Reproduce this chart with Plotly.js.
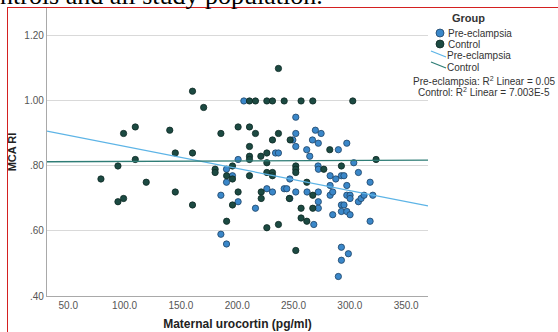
<!DOCTYPE html>
<html>
<head>
<meta charset="utf-8">
<script src="https://cdn.plot.ly/plotly-3.0.1.min.js"></script>
<style>
  html, body { margin:0; padding:0; background:#fff; }
  #wrap { position:relative; width:558px; height:332px; overflow:hidden; background:#fff; }
  #topText { position:absolute; left:0px; top:-17px; font-family:"Liberation Serif","Times New Roman",serif; font-size:26px; line-height:26px; color:#000; white-space:nowrap; z-index:3; }
  #frame { position:absolute; left:7px; top:7px; width:600px; height:400px; border-left:1px solid #d42020; border-top:1px solid #d42020; z-index:2; pointer-events:none; }
  #chart { position:absolute; left:0; top:0; width:558px; height:332px; }
</style>
</head>
<body>
<div id="wrap">
  <div id="chart"></div>
  <div id="frame"></div>
  <div id="topText">ntrols and all study population.</div>
</div>
<script>
// ---- data ----
const ctrlX = [79.0, 94.1, 99.1, 109.5, 94.1, 99.1, 109.5, 119.2, 140.1, 145.0,
  145.0, 160.3, 160.3, 160.3, 170.2, 180.4, 180.4, 185.5, 190.6, 190.6,
  195.8, 195.8, 195.8, 200.8, 200.8, 210.9, 216.2, 210.9, 210.9, 210.9,
  210.9, 210.9, 216.2, 221.0, 221.3, 221.3, 226.3, 231.3, 241.7, 256.7,
  267.1, 302.6, 236.6, 236.6, 231.3, 247.0, 226.3, 226.3, 252.0, 252.0,
  252.0, 276.9, 282.2, 292.5, 323.3, 226.3, 231.3, 231.3, 267.1, 256.7,
  267.1, 256.7, 261.8, 226.3, 236.6, 252.0, 261.8, 246.3];
const ctrlY = [0.76, 0.80, 0.90, 0.92, 0.69, 0.70, 0.82, 0.75, 0.91, 0.84,
  0.72, 0.84, 0.68, 1.03, 0.98, 0.79, 0.78, 0.90, 0.63, 0.77,
  0.80, 0.76, 0.68, 0.72, 0.92, 0.92, 0.90, 0.86, 0.83, 0.82,
  0.77, 1.00, 1.00, 0.83, 0.72, 0.70, 1.00, 1.00, 1.00, 1.00,
  1.00, 1.00, 1.10, 0.90, 0.88, 0.88, 0.84, 0.81, 0.80, 0.79,
  0.78, 0.79, 0.85, 0.80, 0.82, 0.78, 0.78, 0.77, 0.71, 0.67,
  0.67, 0.64, 0.63, 0.61, 0.62, 0.54, 0.75, 0.70];
const peX = [205.9, 252.0, 252.0, 269.4, 274.5, 249.4, 252.0, 266.8, 272.0, 289.8,
  297.3, 261.7, 264.4, 234.0, 236.6, 200.8, 271.8, 272.1, 303.5, 190.5,
  190.5, 195.8, 246.7, 282.5, 287.5, 292.5, 294.8, 307.6, 282.5, 297.3,
  318.0, 185.5, 200.8, 226.3, 231.3, 241.7, 244.0, 246.7, 252.0, 262.0,
  272.0, 282.5, 284.8, 297.3, 300.2, 300.2, 307.6, 310.0, 312.6, 320.4,
  216.2, 272.0, 272.0, 284.8, 292.5, 294.8, 292.5, 297.3, 300.2, 268.0,
  318.0, 185.5, 190.5, 292.5, 298.7, 292.5, 289.8];
const peY = [1.00, 0.95, 0.90, 0.91, 0.90, 0.88, 0.86, 0.88, 0.87, 0.85,
  0.87, 0.85, 0.83, 0.84, 0.84, 0.82, 0.80, 0.79, 0.81, 0.79,
  0.75, 0.77, 0.76, 0.77, 0.76, 0.77, 0.77, 0.78, 0.74, 0.74,
  0.75, 0.71, 0.69, 0.73, 0.72, 0.73, 0.73, 0.70, 0.72, 0.72,
  0.72, 0.71, 0.72, 0.71, 0.71, 0.70, 0.69, 0.70, 0.71, 0.71,
  0.67, 0.67, 0.69, 0.65, 0.68, 0.68, 0.66, 0.66, 0.65, 0.62,
  0.63, 0.59, 0.56, 0.55, 0.53, 0.51, 0.46];
// fitted linear trend lines at both ends of the x axis
const fitX = [31.1, 369.4];
const peFitY = [0.907, 0.677];
const ctrlFitY = [0.813, 0.818];
const groupNames = ["Pre-eclampsia", "Control"];
const r2Labels = ["Pre-eclampsia: R<sup>2</sup> Linear = 0.05", "Control: R<sup>2</sup> Linear = 7.003E-5"];
const xTickVals = [50, 100, 150, 200, 250, 300, 350];
const xTickText = ["50.0", "100.0", "150.0", "200.0", "250.0", "300.0", "350.0"];
const yTickVals = [0.4, 0.6, 0.8, 1.0, 1.2];
const yTickText = [".40", ".60", ".80", "1.00", "1.20"];
const xTitle = "Maternal urocortin (pg/ml)";
const yTitle = "MCA RI";
const legendTitle = "Group";

// ---- styling ----
const xRange = [31.1, 369.4];
const yRange = [0.4, 1.286];
const peFill = "#3a87c9", peEdge = "#1f4466", peLine = "#5db4e6";
const ctFill = "#1c4a42", ctEdge = "#0e2a25", ctLine = "#2f7d76";

const traces = [
  { x: peX, y: peY, type: "scatter", mode: "markers", name: groupNames[0],
    marker: { size: 6.3, color: peFill, line: { color: peEdge, width: 0.8 } }, cliponaxis: false },
  { x: ctrlX, y: ctrlY, type: "scatter", mode: "markers", name: groupNames[1],
    marker: { size: 6.3, color: ctFill, line: { color: ctEdge, width: 0.8 } }, cliponaxis: false },
  { x: fitX, y: peFitY, type: "scatter", mode: "lines", name: groupNames[0],
    line: { color: peLine, width: 1.3 } },
  { x: fitX, y: ctrlFitY, type: "scatter", mode: "lines", name: groupNames[1],
    line: { color: ctLine, width: 1.4 } }
];

// plot area geometry (pixels)
const L = 47, R = 130, T = 8, B = 36, W = 558 - L - R, H = 332 - T - B;
const px = x => (x - L) / W;
const py = y => (T + H - y) / H;

const txt = "#333333";
const ff = "Liberation Sans, Arial";
const annotations = [
  { text: "<b>" + legendTitle + "</b>", x: px(468), y: py(18), xref: "paper", yref: "paper",
    showarrow: false, xanchor: "center", yanchor: "middle", font: { family: ff, size: 11, color: txt } },
  { text: groupNames[0], x: px(446), y: py(33), xref: "paper", yref: "paper", showarrow: false,
    xanchor: "left", yanchor: "middle", font: { family: ff, size: 10, color: txt } },
  { text: groupNames[1], x: px(446), y: py(44), xref: "paper", yref: "paper", showarrow: false,
    xanchor: "left", yanchor: "middle", font: { family: ff, size: 10, color: txt } },
  { text: groupNames[0], x: px(445), y: py(56), xref: "paper", yref: "paper", showarrow: false,
    xanchor: "left", yanchor: "middle", font: { family: ff, size: 10, color: txt } },
  { text: groupNames[1], x: px(445), y: py(67), xref: "paper", yref: "paper", showarrow: false,
    xanchor: "left", yanchor: "middle", font: { family: ff, size: 10, color: txt } },
  { text: r2Labels[0], x: px(484), y: py(81), xref: "paper", yref: "paper", showarrow: false,
    xanchor: "center", yanchor: "middle", font: { family: ff, size: 10, color: txt } },
  { text: r2Labels[1], x: px(484), y: py(92), xref: "paper", yref: "paper", showarrow: false,
    xanchor: "center", yanchor: "middle", font: { family: ff, size: 10, color: txt } }
];

const shapes = [
  { type: "circle", xref: "paper", yref: "paper", xsizemode: "pixel", ysizemode: "pixel",
    xanchor: px(440), yanchor: py(33), x0: -4, x1: 4, y0: -4, y1: 4,
    fillcolor: peFill, line: { color: peEdge, width: 0.8 } },
  { type: "circle", xref: "paper", yref: "paper", xsizemode: "pixel", ysizemode: "pixel",
    xanchor: px(440), yanchor: py(44), x0: -4, x1: 4, y0: -4, y1: 4,
    fillcolor: ctFill, line: { color: ctEdge, width: 0.8 } },
  { type: "line", xref: "paper", yref: "paper", x0: px(431), x1: px(446), y0: py(51), y1: py(57),
    line: { color: peLine, width: 1.2 } },
  { type: "line", xref: "paper", yref: "paper", x0: px(431), x1: px(446), y0: py(62), y1: py(68),
    line: { color: ctLine, width: 1.2 } }
];

const layout = {
  width: 558, height: 332,
  margin: { l: L, r: R, t: T, b: B, pad: 0 },
  paper_bgcolor: "rgba(0,0,0,0)", plot_bgcolor: "#ffffff",
  showlegend: false,
  font: { family: "Liberation Sans, Arial, sans-serif", size: 10, color: "#555555" },
  xaxis: {
    range: xRange, tickvals: xTickVals, ticktext: xTickText, showgrid: false, zeroline: false,
    showline: true, linecolor: "#a9a9a9", linewidth: 1.2, ticks: "",
    tickfont: { size: 10, color: "#555555" },
    title: { text: xTitle, font: { size: 12, color: "#222222", weight: "bold" }, standoff: 9 }
  },
  yaxis: {
    range: yRange, tickvals: yTickVals, ticktext: yTickText, showgrid: true, gridcolor: "#d9d9d9", gridwidth: 1,
    zeroline: false, showline: true, linecolor: "#a9a9a9", linewidth: 1.2, ticks: "",
    tickfont: { size: 10, color: "#555555" },
    title: { text: yTitle, font: { size: 11, color: "#222222", weight: "bold" }, standoff: 5 }
  },
  annotations: annotations,
  shapes: shapes
};

Plotly.newPlot("chart", traces, layout, { staticPlot: true, displayModeBar: false });
</script>
</body>
</html>
